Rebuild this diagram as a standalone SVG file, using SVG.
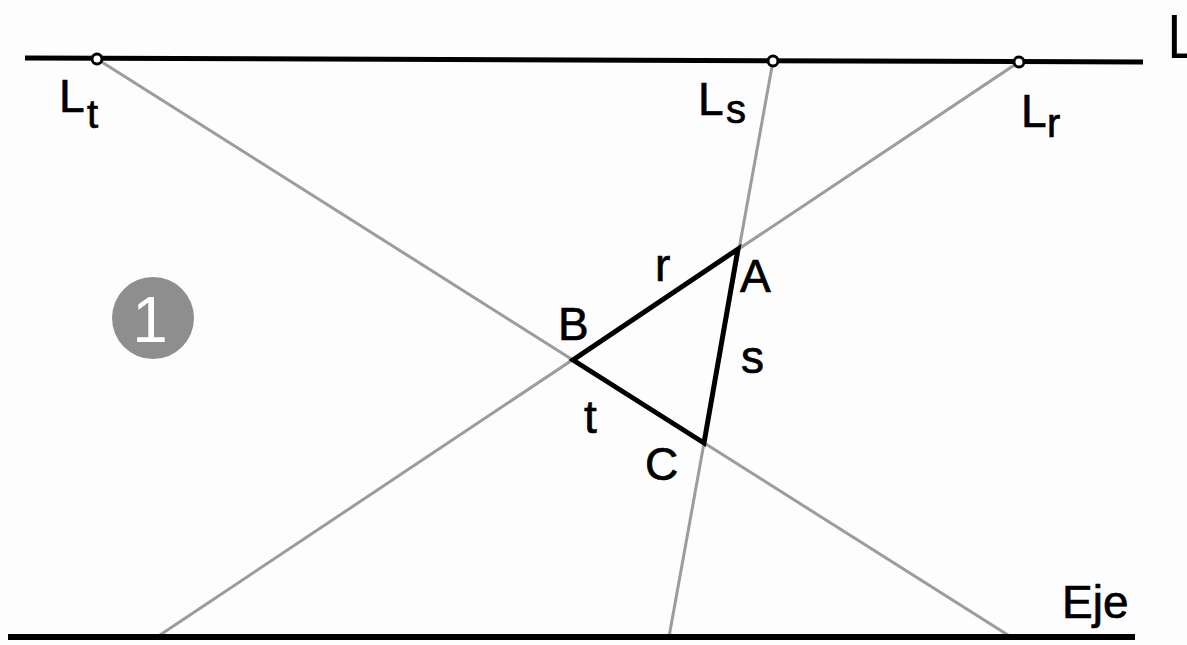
<svg xmlns="http://www.w3.org/2000/svg" width="1187" height="645" viewBox="0 0 1187 645">
  <style>
    .lbl { font-family: "Liberation Sans", Arial, sans-serif; font-size: 46px; fill: #000; stroke: #000; stroke-width: 0.7px; }
    .sub { font-family: "Liberation Sans", Arial, sans-serif; font-size: 40px; fill: #000; stroke: #000; stroke-width: 0.7px; }
    .ray { stroke: #9c9c9c; stroke-width: 3; fill: none; }
    .axis { stroke: #000; stroke-width: 5; fill: none; stroke-linecap: butt; }
    .tri { stroke: #000; stroke-width: 5; fill: none; stroke-linejoin: miter; }
    .pt { fill: #fff; stroke: #000; stroke-width: 3; }
  </style>
  <rect width="1187" height="645" fill="#fdfdfd"/>
  <g id="connectors">
    <line class="ray" x1="97" y1="59" x2="1011" y2="637"/>
    <line class="ray" x1="1019" y1="62" x2="157" y2="637"/>
    <line class="ray" x1="773" y1="61" x2="669" y2="637"/>
    <line id="limit-line" class="axis" x1="25" y1="58" x2="1143" y2="62"/>
    <line id="eje-line" class="axis" x1="8" y1="637" x2="1135" y2="637" style="stroke-width:6"/>
  </g>
  <g id="triangle">
    <polygon class="tri" points="738,249 573,360 704,443"/>
  </g>
  <g id="Lt">
    <circle class="pt" cx="97" cy="59" r="5"/>
    <text class="lbl" x="59" y="112">L</text>
    <text class="sub" x="87" y="128">t</text>
  </g>
  <g id="Ls">
    <circle class="pt" cx="773" cy="61" r="5"/>
    <text class="lbl" x="698" y="115">L</text>
    <text class="sub" x="726" y="123">s</text>
  </g>
  <g id="Lr">
    <circle class="pt" cx="1019" cy="62" r="5"/>
    <text class="lbl" x="1021" y="127">L</text>
    <text class="sub" x="1047" y="137">r</text>
  </g>
  <g id="A"><text class="lbl" x="740" y="292">A</text></g>
  <g id="B"><text class="lbl" x="558" y="340">B</text></g>
  <g id="C"><text class="lbl" x="645" y="480">C</text></g>
  <g id="r"><text class="lbl" x="655" y="281">r</text></g>
  <g id="s"><text class="lbl" x="741" y="373">s</text></g>
  <g id="t"><text class="lbl" x="584" y="433">t</text></g>
  <g id="Eje"><text class="lbl" x="1062" y="618">Eje</text></g>
  <g id="badge1">
    <circle cx="153" cy="318" r="41" fill="#8e8e8e"/>
    <text x="150" y="342" text-anchor="middle" font-family="'Liberation Sans', Arial, sans-serif" font-size="64" fill="#fff">1</text>
  </g>
  <g id="corner-text">
    <text x="1166" y="58" font-family="'Open Sans', sans-serif" font-size="60" fill="#000">L</text>
  </g>
</svg>
